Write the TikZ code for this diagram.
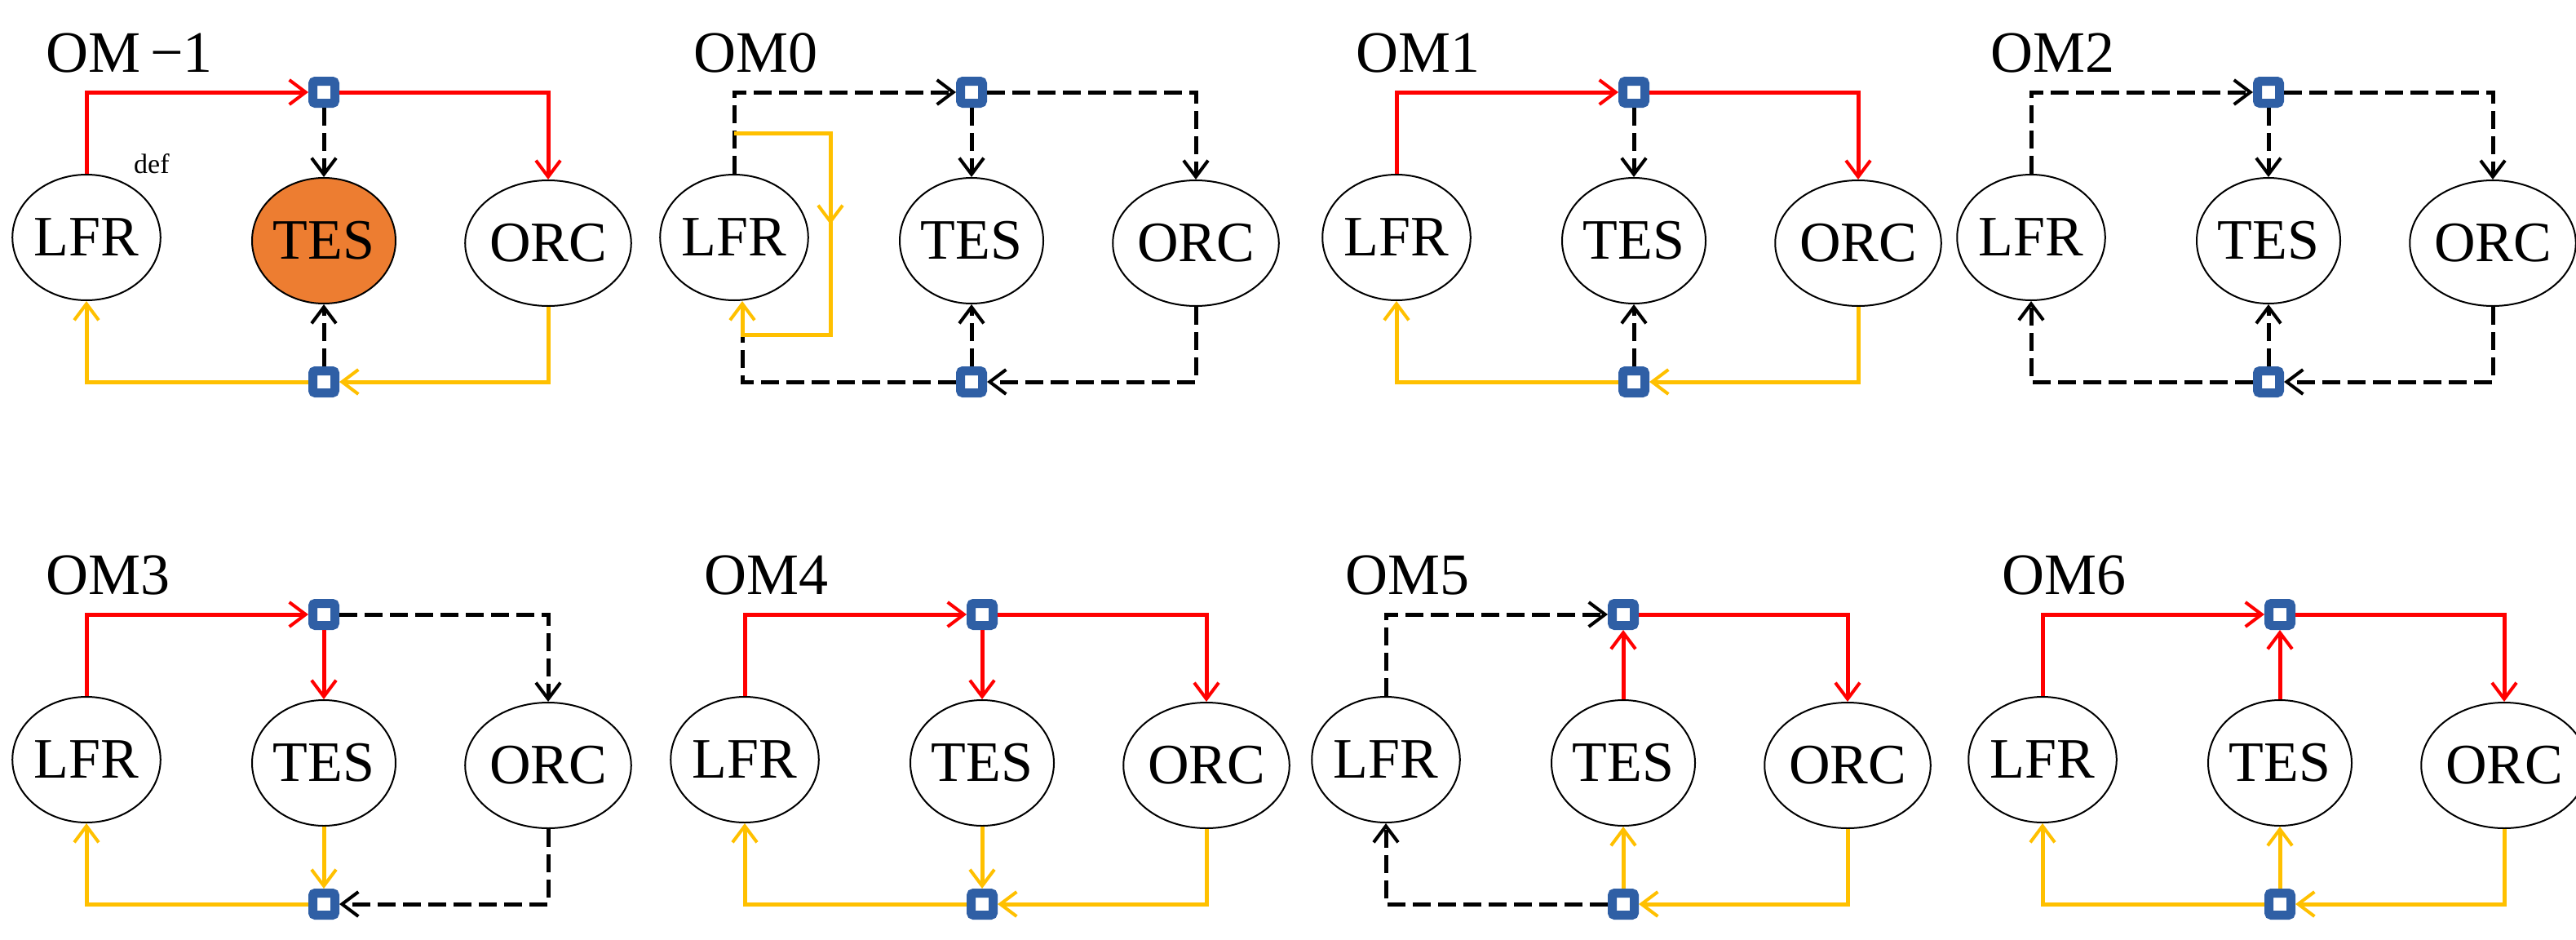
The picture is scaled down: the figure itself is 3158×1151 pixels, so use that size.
\documentclass[tikz,border=0pt]{standalone}
\usepackage{fontspec}
\setmainfont{Liberation Serif}
\usetikzlibrary{arrows.meta,shapes.geometric}
\definecolor{cred}{HTML}{FF0000}
\definecolor{cyel}{HTML}{FFC000}
\definecolor{cblue}{HTML}{2F5FA5}
\definecolor{corange}{HTML}{ED7D31}
\tikzset{
  ell/.style={ellipse,draw=black,line width=2pt,minimum width=164pt,minimum height=154pt,inner sep=0pt,font=\fontsize{70}{70}\selectfont},
  sq/.style={draw=cblue,fill=white,line width=11pt,minimum size=27pt,inner sep=0pt,rounded corners=3pt},
  lab/.style={anchor=base west,font=\fontsize{72}{72}\selectfont,inner sep=0pt},
  ar/.style={-{Straight Barb[length=20pt,width=30pt,line width=4pt]}},
  R/.style={draw=cred,line width=5pt},
  Y/.style={draw=cyel,line width=5pt},
  K/.style={draw=black,line width=5pt,dash pattern=on 22pt off 9pt},
}
\newcommand\panel[5]{%
  \begin{scope}[shift={(#2,#3)}]
    \node[lab] (#1lab) at (-50,-25) {#4};
    \node[ell] (#1L) at (0,178) {LFR};
    \node[ell,#5] (#1T) at (291,182) {TES};
    \node[ell] (#1O) at (566,185) {ORC};
    \node[sq] (#1s) at (291,0) {};
    \node[sq] (#1b) at (291,355) {};
  \end{scope}}
\begin{document}
\begin{tikzpicture}[x=1pt,y=-1pt]
\useasboundingbox (0,0) rectangle (3158,1151);
% top row
\panel{a}{106}{113}{OM\,\textminus1}{fill=corange}
\node[anchor=base west,font=\fontsize{34}{34}\selectfont,inner sep=0pt] (adef) at (164,212) {def};
\panel{b}{900}{113}{OM0}{}
\panel{c}{1712}{113}{OM1}{}
\panel{d}{2490}{113}{OM2}{}
% bottom row
\panel{e}{106}{753}{OM3}{}
\panel{f}{913}{753}{OM4}{}
\panel{g}{1699}{753}{OM5}{}
\panel{h}{2504}{753}{OM6}{}
% OM-1
\draw[R,ar] (aL.north) |- (as.west);
\draw[R,ar] (as.east) -| (aO.north);
\draw[K,ar] (as.south) -- (aT.north);
\draw[Y,ar] (aO.south) |- (ab.east);
\draw[Y,ar] (ab.west) -| (aL.south);
\draw[K,ar] (ab.north) -- (aT.south);
% OM0
\draw[K,ar] (bL.north) |- (bs.west);
\draw[K,ar] (bs.east) -| (bO.north);
\draw[K,ar] (bs.south) -- (bT.north);
\draw[K,ar] (bO.south) |- (bb.east);
\coordinate (by1) at (1018,163);
\coordinate (by2) at (910,410);
\draw[K] (bb.west) -| (by2);
\draw[Y,ar] (bL.north |- by1) -| (by1 |- 0,275);
\draw[Y,ar] (by1 |- 0,260) |- (by2) -- (by2 |- bL.south);
\draw[K,ar] (bb.north) -- (bT.south);
% OM1
\draw[R,ar] (cL.north) |- (cs.west);
\draw[R,ar] (cs.east) -| (cO.north);
\draw[K,ar] (cs.south) -- (cT.north);
\draw[Y,ar] (cO.south) |- (cb.east);
\draw[Y,ar] (cb.west) -| (cL.south);
\draw[K,ar] (cb.north) -- (cT.south);
% OM2
\draw[K,ar] (dL.north) |- (ds.west);
\draw[K,ar] (ds.east) -| (dO.north);
\draw[K,ar] (ds.south) -- (dT.north);
\draw[K,ar] (dO.south) |- (db.east);
\draw[K,ar] (db.west) -| (dL.south);
\draw[K,ar] (db.north) -- (dT.south);
% OM3
\draw[R,ar] (eL.north) |- (es.west);
\draw[K,ar] (es.east) -| (eO.north);
\draw[R,ar] (es.south) -- (eT.north);
\draw[K,ar] (eO.south) |- (eb.east);
\draw[Y,ar] (eb.west) -| (eL.south);
\draw[Y,ar] (eT.south) -- (eb.north);
% OM4
\draw[R,ar] (fL.north) |- (fs.west);
\draw[R,ar] (fs.east) -| (fO.north);
\draw[R,ar] (fs.south) -- (fT.north);
\draw[Y,ar] (fO.south) |- (fb.east);
\draw[Y,ar] (fb.west) -| (fL.south);
\draw[Y,ar] (fT.south) -- (fb.north);
% OM5
\draw[K,ar] (gL.north) |- (gs.west);
\draw[R,ar] (gs.east) -| (gO.north);
\draw[R,ar] (gT.north) -- (gs.south);
\draw[Y,ar] (gO.south) |- (gb.east);
\draw[K,ar] (gb.west) -| (gL.south);
\draw[Y,ar] (gb.north) -- (gT.south);
% OM6
\draw[R,ar] (hL.north) |- (hs.west);
\draw[R,ar] (hs.east) -| (hO.north);
\draw[R,ar] (hT.north) -- (hs.south);
\draw[Y,ar] (hO.south) |- (hb.east);
\draw[Y,ar] (hb.west) -| (hL.south);
\draw[Y,ar] (hb.north) -- (hT.south);
\end{tikzpicture}
\end{document}
